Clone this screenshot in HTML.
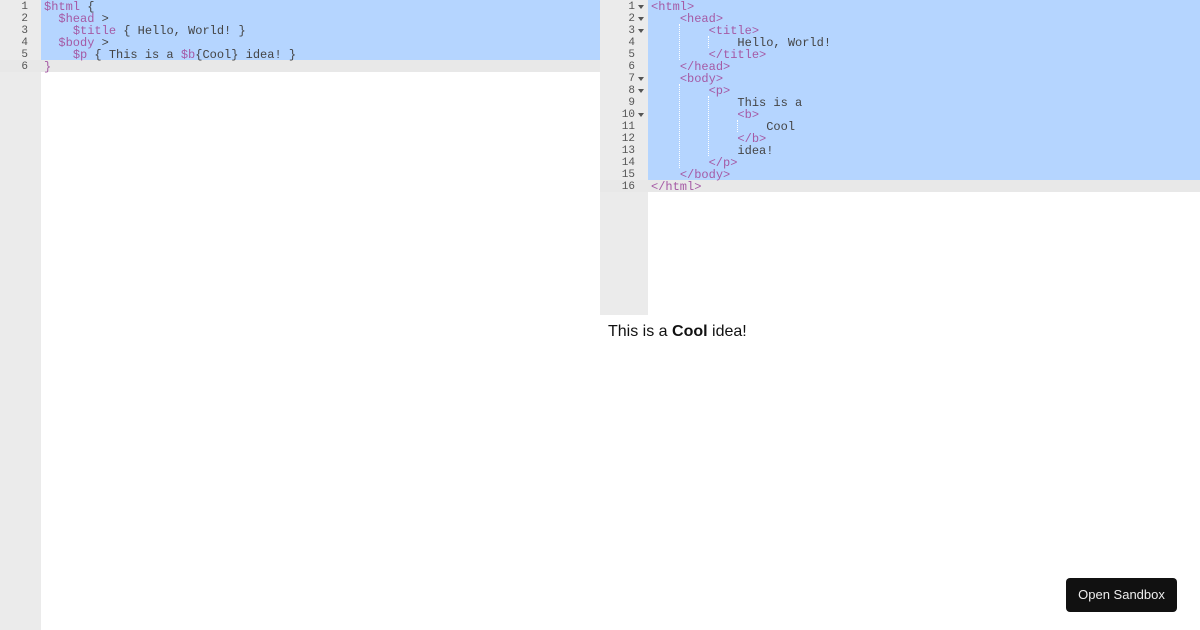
<!DOCTYPE html>
<html><head><meta charset="utf-8"><style>
*{margin:0;padding:0;box-sizing:border-box}
body{width:1200px;height:630px;background:#fff;position:relative;overflow:hidden;font-family:"Liberation Mono",monospace}
.g{position:absolute;background:#ebebeb}
.sel{position:absolute;background:#b5d5ff}
.hl{position:absolute;background:#e8e8e8}
.ln{position:absolute;font-size:11px;line-height:12px;color:#555;text-align:right}
.code{position:absolute;font-size:12px;line-height:12px;color:#444;white-space:pre}
.t{color:#a55aa5}
.ar{position:absolute;width:0;height:0;border-left:3px solid transparent;border-right:3px solid transparent;border-top:4px solid #555}
.guide{position:absolute;width:0;border-left:1px dotted #fff}
.out{position:absolute;left:608px;top:323px;font-family:"Liberation Sans",sans-serif;font-size:16px;color:#111}
.btn{position:absolute;left:1066px;top:578px;width:111px;height:34px;background:#111;border-radius:4px;color:#eee;font-family:"Liberation Sans",sans-serif;font-size:13px;line-height:34px;text-align:center}
</style></head><body>
<div class="g" style="left:0;top:0;width:41px;height:630px"></div>
<div class="sel" style="left:41px;top:0;width:559px;height:60px"></div>
<div class="hl" style="left:0;top:60px;width:600px;height:12px"></div>
<div class="ln" style="left:0;top:1px;width:28px">1<br>2<br>3<br>4<br>5<br>6</div>
<div class="code" style="left:44px;top:1px"><span class="t">$html</span> {
  <span class="t">$head</span> &gt;
    <span class="t">$title</span> { Hello, World! }
  <span class="t">$body</span> &gt;
    <span class="t">$p</span> { This is a <span class="t">$b</span>{Cool} idea! }
<span class="t">}</span></div>

<div class="g" style="left:600px;top:0;width:48px;height:315px"></div>
<div class="sel" style="left:648px;top:0;width:552px;height:180px"></div>
<div class="hl" style="left:600px;top:180px;width:600px;height:12px"></div>
<div class="ln" style="left:600px;top:1px;width:35px">1<br>2<br>3<br>4<br>5<br>6<br>7<br>8<br>9<br>10<br>11<br>12<br>13<br>14<br>15<br>16</div>
<div class="ar" style="left:638px;top:5px"></div>
<div class="ar" style="left:638px;top:17px"></div>
<div class="ar" style="left:638px;top:29px"></div>
<div class="ar" style="left:638px;top:77px"></div>
<div class="ar" style="left:638px;top:89px"></div>
<div class="ar" style="left:638px;top:113px"></div>
<div class="guide" style="left:679px;top:24px;height:36px"></div>
<div class="guide" style="left:708px;top:36px;height:12px"></div>
<div class="guide" style="left:679px;top:84px;height:84px"></div>
<div class="guide" style="left:708px;top:96px;height:60px"></div>
<div class="guide" style="left:737px;top:120px;height:12px"></div>
<div class="code" style="left:651px;top:1px"><span class="t">&lt;html&gt;</span>
    <span class="t">&lt;head&gt;</span>
        <span class="t">&lt;title&gt;</span>
            Hello, World!
        <span class="t">&lt;/title&gt;</span>
    <span class="t">&lt;/head&gt;</span>
    <span class="t">&lt;body&gt;</span>
        <span class="t">&lt;p&gt;</span>
            This is a
            <span class="t">&lt;b&gt;</span>
                Cool
            <span class="t">&lt;/b&gt;</span>
            idea!
        <span class="t">&lt;/p&gt;</span>
    <span class="t">&lt;/body&gt;</span>
<span class="t">&lt;/html&gt;</span></div>
<div class="out">This is a <b>Cool</b> idea!</div>
<div class="btn">Open Sandbox</div>
</body></html>
